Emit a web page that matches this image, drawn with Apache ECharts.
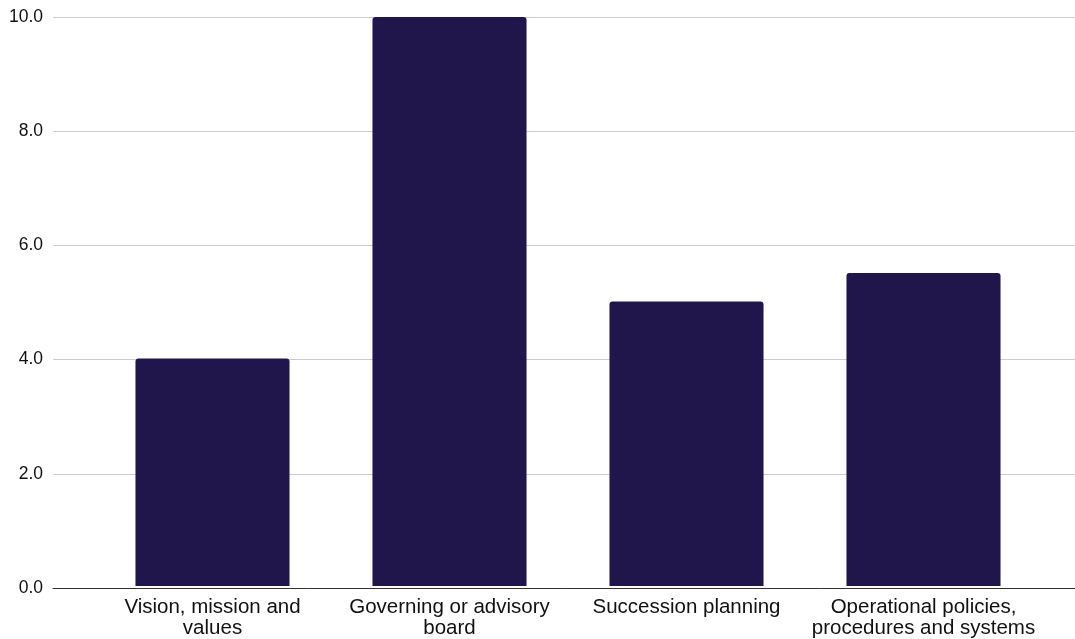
<!DOCTYPE html>
<html>
<head>
<meta charset="utf-8">
<script src="https://cdn.jsdelivr.net/npm/echarts@6/dist/echarts.min.js"></script>
<style>
  html, body { margin: 0; padding: 0; background: #ffffff; }
  #chart { width: 1075px; height: 639px; }
</style>
</head>
<body>
<div id="chart"></div>
<script>
// Governance areas and their scores
const categories = [
  'Vision, mission and\nvalues',
  'Governing or advisory\nboard',
  'Succession planning',
  'Operational policies,\nprocedures and systems'
];
const scores = [4.0, 10.0, 5.0, 5.5];
const yTicks = { min: 0, max: 10, interval: 2 };

const FONT = '"Liberation Sans", Arial, sans-serif';
const gridTop = 17, gridBottom = 51;

const chart = echarts.init(document.getElementById('chart'), null, { renderer: 'canvas' });

chart.setOption({
  animation: false,
  backgroundColor: '#ffffff',
  grid: [
    // full-width frame carrying gridlines, value labels and the baseline
    { left: 53, right: 0, top: gridTop, bottom: gridBottom, containLabel: false },
    // inner band holding the bars and category labels
    { left: 94, right: 33, top: gridTop, bottom: gridBottom, containLabel: false }
  ],
  xAxis: [
    {
      gridIndex: 0, type: 'value', min: 0, max: 1,
      axisLine: { show: true, lineStyle: { color: '#333333', width: 1 } },
      axisTick: { show: false }, axisLabel: { show: false }, splitLine: { show: false }
    },
    {
      gridIndex: 1, type: 'category', data: categories,
      axisLine: { show: false }, axisTick: { show: false },
      axisLabel: {
        margin: 11, interval: 0,
        fontFamily: FONT, fontSize: 20.5, lineHeight: 21, color: '#111111', align: 'center'
      }
    }
  ],
  yAxis: [
    {
      gridIndex: 0, type: 'value', min: yTicks.min, max: yTicks.max, interval: yTicks.interval,
      axisLine: { show: false }, axisTick: { show: false },
      axisLabel: {
        margin: 10, fontFamily: FONT, fontSize: 17.5, color: '#111111',
        formatter: v => v.toFixed(1)
      },
      splitLine: { show: true, lineStyle: { color: '#cccccc', width: 1 } }
    },
    {
      gridIndex: 1, type: 'value', min: yTicks.min, max: yTicks.max, interval: yTicks.interval,
      show: false, splitLine: { show: false }
    }
  ],
  series: [
    {
      type: 'bar', xAxisIndex: 1, yAxisIndex: 1,
      data: scores, barWidth: '65%',
      itemStyle: { color: '#21164c', borderRadius: [3, 3, 0, 0] }
    }
  ]
});
</script>
</body>
</html>
